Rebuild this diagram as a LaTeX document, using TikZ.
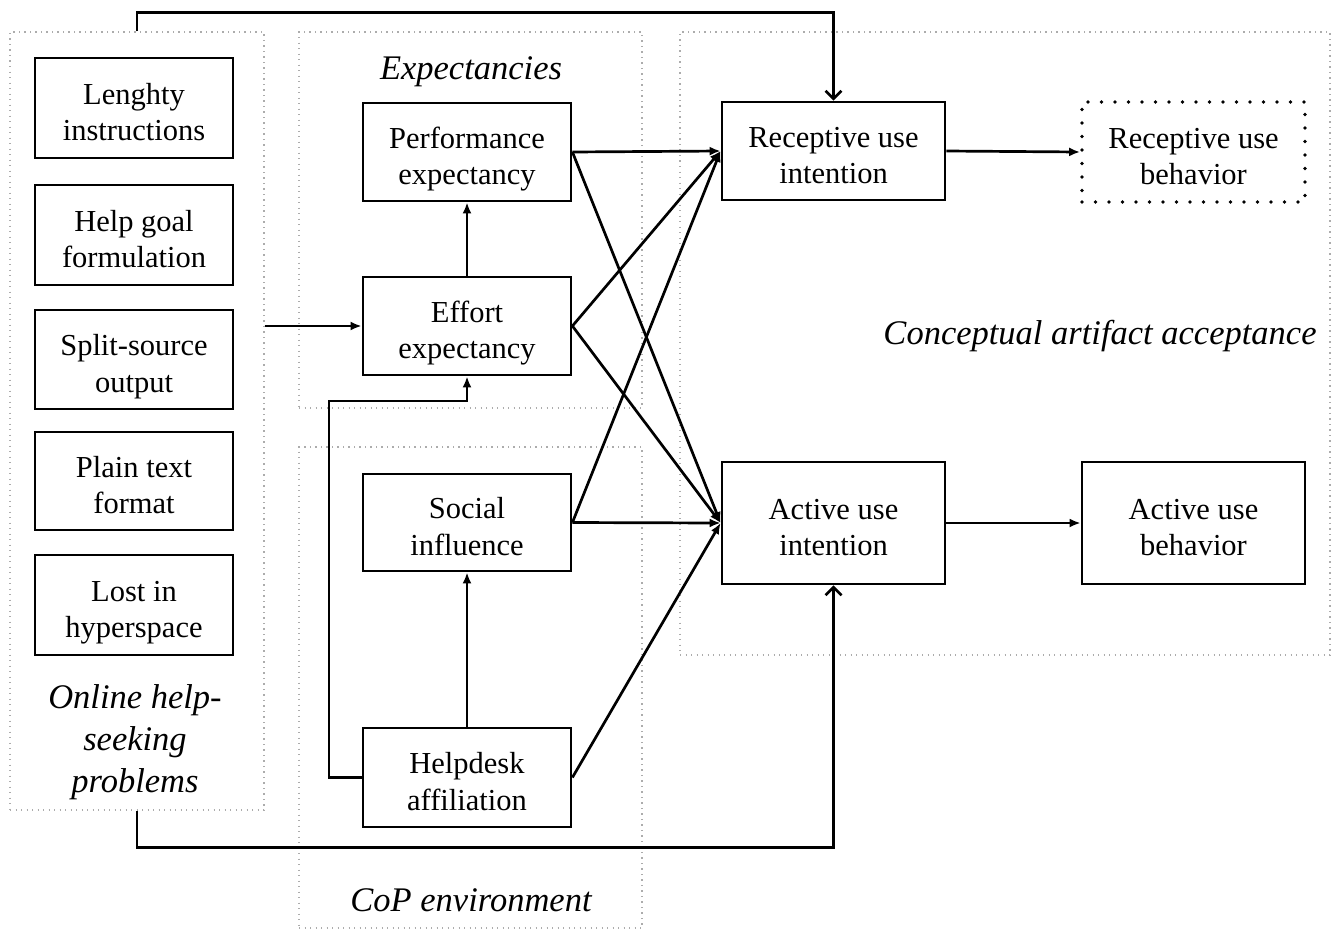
\documentclass[tikz,border=0pt]{standalone}
\usepackage{fontspec}
\setmainfont{Liberation Serif}
\usetikzlibrary{arrows.meta}
\newcommand{\boxtxt}[1]{\raisebox{0pt}[\dimexpr\height+14pt\relax][\depth]{\begin{tabular}{@{}c@{}}#1\end{tabular}}}
\begin{document}
\begin{tikzpicture}[x=1pt,y=-1pt,
  grp/.style={draw=gray!65, line width=1.4pt, dash pattern=on 1.3pt off 4.2pt, inner sep=0pt},
  box/.style={draw, line width=2.8pt, inner sep=0pt, font=\fontsize{30.5}{36.5}\selectfont},
  dotbox/.style={draw, line width=3.8pt, dash pattern=on 0pt off 13.5pt, line cap=round, inner sep=0pt, font=\fontsize{30.5}{36.5}\selectfont},
  lab/.style={font=\fontsize{34.5}{42}\selectfont\itshape, align=center, inner sep=0pt},
  conn/.style={line width=2.7pt},
  fa/.style={conn, -{Latex[length=11pt,width=9pt]}},
  oa/.style={conn, -{Straight Barb[length=8pt,width=16pt,line width=2.6pt]}}
]
\useasboundingbox (0,0) rectangle (1337,932);
% containers
\node[grp, minimum width=254, minimum height=778] (gL) at (137,421) {};
\node[grp, minimum width=343, minimum height=376] (gE) at (470.5,220) {};
\node[grp, minimum width=343, minimum height=481] (gC) at (470.5,687.5) {};
\node[grp, minimum width=650, minimum height=623] (gA) at (1005,343.5) {};
% labels
\node[lab] (lE) at (471,72) {Expectancies};
\node[lab] (lC) at (471,900) {CoP environment};
\node[lab] (lA) at (1100,336) {Conceptual artifact acceptance};
\node[lab] (lL) at (135,742) {Online help-\\seeking\\problems};
% left boxes
\node[box, minimum width=198, minimum height=100] (l1) at (134,108) {\boxtxt{Lenghty\\instructions}};
\node[box, minimum width=198, minimum height=100] (l2) at (134,235) {\boxtxt{Help goal\\formulation}};
\node[box, minimum width=198, minimum height=99] (l3) at (134,359.5) {\boxtxt{Split-source\\output}};
\node[box, minimum width=198, minimum height=98] (l4) at (134,481) {\boxtxt{Plain text\\format}};
\node[box, minimum width=198, minimum height=100] (l5) at (134,605) {\boxtxt{Lost in\\hyperspace}};
% middle boxes
\node[box, minimum width=208, minimum height=98] (perf) at (467,152) {\boxtxt{Performance\\expectancy}};
\node[box, minimum width=208, minimum height=98] (eff) at (467,326) {\boxtxt{Effort\\expectancy}};
\node[box, minimum width=208, minimum height=97] (soc) at (467,522.5) {\boxtxt{Social\\influence}};
\node[box, minimum width=208, minimum height=99] (hd) at (467,777.5) {\boxtxt{Helpdesk\\affiliation}};
% right boxes
\node[box, minimum width=223, minimum height=98] (ri) at (833.5,151) {\boxtxt{Receptive use\\intention}};
\node[dotbox, minimum width=223, minimum height=100] (rb) at (1193.5,152) {\boxtxt{Receptive use\\behavior}};
\node[box, minimum width=223, minimum height=122] (ai) at (833.5,523) {\boxtxt{Active use\\intention}};
\node[box, minimum width=223, minimum height=122] (ab) at (1193.5,523) {\boxtxt{Active use\\behavior}};
% connectors
\coordinate (hl) at (329,401);
\draw[oa] (gL.north) -- ++(0,-19) -| (ri.north);
\draw[oa] (gL.south) -- ++(0,37) -| (ai.south);
\draw[fa] (gL.east |- eff.west) -- (eff.west);
\draw[fa] (eff.north) -- (perf.south);
\draw[fa] (hd.north) -- (soc.south);
\draw[fa] (hd.west) -| (hl) -| (eff.south);
\draw[fa] (perf.east) -- (ri.west);
\draw[fa] (perf.east) -- (ai.west);
\draw[fa] (eff.east) -- (ri.west);
\draw[fa] (eff.east) -- (ai.west);
\draw[fa] (soc.east) -- (ri.west);
\draw[fa] (soc.east) -- (ai.west);
\draw[fa] (hd.east) -- (ai.west);
\draw[fa] (ri.east) -- (rb.west);
\draw[fa] (ai.east) -- (ab.west);
\end{tikzpicture}
\end{document}
